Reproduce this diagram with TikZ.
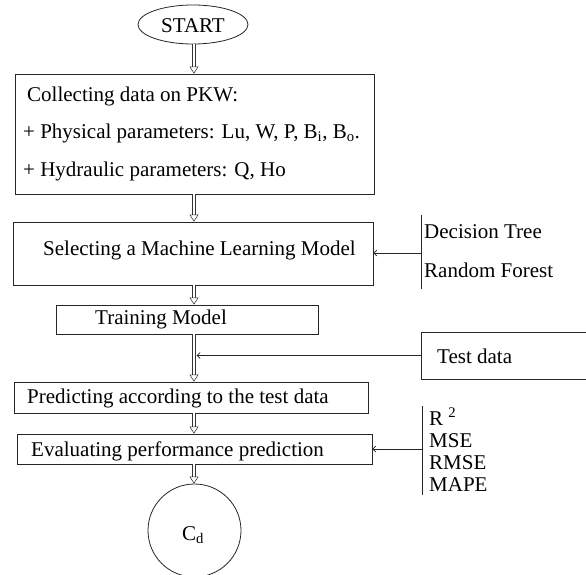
\documentclass[tikz,border=0pt]{standalone}
\usepackage{fontspec}
\setmainfont{Liberation Serif}
\usetikzlibrary{arrows.meta,shapes.geometric,calc}

\begin{document}
\begin{tikzpicture}[x=1pt,y=-1pt,
  every node/.style={font=\fontsize{21}{22}\selectfont},
  frame/.style={draw=black!85,line width=0.8pt,rectangle,inner sep=0pt},
  txt/.style={anchor=base west,inner sep=0pt},
  flow/.style={draw=black!80,line width=0.55pt,double,double distance=2.6pt,
    -{Triangle[open,length=7pt,width=9pt]}},
  feed/.style={draw=black!85,line width=0.7pt,-{Straight Barb[length=3pt,width=6pt]}},
  bar/.style={draw=black!85,line width=0.8pt}]
\clip (0,0) rectangle (586,575);
\useasboundingbox (0,0) rectangle (586,575);

% main column of steps
\node[frame,ellipse,minimum width=110pt,minimum height=39pt] (start) at (193,24.5) {};
\node[txt,anchor=base] (starttxt) at (193,33) {START};

\node[frame,minimum width=359pt,minimum height=120pt] (collect) at (194.5,134) {};
\node[txt] (c1) at (27,101.5) {Collecting data on PKW:};
\node[txt] (c2) at (23,138.5) {+ Physical parameters: Lu, W, P, B\textsubscript{i}, B\textsubscript{o}.};
\node[txt] (c3) at (23,176) {+ Hydraulic parameters: Q, Ho};

\node[frame,minimum width=360pt,minimum height=63pt] (select) at (193,253.5) {};
\node[txt] (seltxt) at (43,255) {Selecting a Machine Learning Model};

\node[frame,minimum width=262pt,minimum height=29pt] (train) at (187,319.5) {};
\node[txt] (traintxt) at (95,324.5) {Training Model};

\node[frame,minimum width=354pt,minimum height=31pt] (predict) at (191,397.5) {};
\node[txt] (predtxt) at (27,403.5) {Predicting according to the test data};

\node[frame,minimum width=355pt,minimum height=30pt] (evaluate) at (194.5,449) {};
\node[txt] (evaltxt) at (31,456) {Evaluating performance prediction};

\node[frame,circle,minimum size=93pt] (cd) at (194.5,530.5) {};
\node[txt,anchor=base] (cdtxt) at (193,540) {C\textsubscript{d}};

% side inputs
\node[frame,minimum width=179pt,minimum height=47pt] (test) at (510.5,355.5) {};
\node[txt] (testtxt) at (437,363) {Test data};

\coordinate (mtop) at (421,215);
\coordinate (mbot) at (421,289);
\coordinate (mmid) at (421,253);
\node[txt] (dt) at (424,238) {Decision Tree};
\node[txt] (rf) at (424,277) {Random Forest};

\coordinate (etop) at (422,406);
\coordinate (ebot) at (422,495);
\coordinate (emid) at (422,449);
\node[txt] (r2) at (429,425) {R \textsuperscript{2}};
\node[txt] (mse) at (429,447) {MSE};
\node[txt] (rmse) at (429,469) {RMSE};
\node[txt] (mape) at (429,491) {MAPE};

% flow spine
\coordinate (spine) at (194,0);
\coordinate (spineR) at (196.6,0);

\draw[flow] (spine |- start.south) -- (spine |- collect.north);
\draw[flow] (spine |- collect.south) -- (spine |- select.north);
\draw[flow] (spine |- select.south) -- (spine |- train.north);
\draw[flow] (spine |- train.south) -- (spine |- predict.north);
\draw[flow] (spine |- predict.south) -- (spine |- evaluate.north);
\draw[flow] (spine |- evaluate.south) -- (spine |- cd.north);

\draw[bar] (mtop) -- (mbot);
\draw[feed] (mmid) -- (mmid -| select.east);
\draw[feed] (test.west) -- (test.west -| spineR);
\draw[bar] (etop) -- (ebot);
\draw[feed] (emid) -- (emid -| evaluate.east);
\end{tikzpicture}
\end{document}
